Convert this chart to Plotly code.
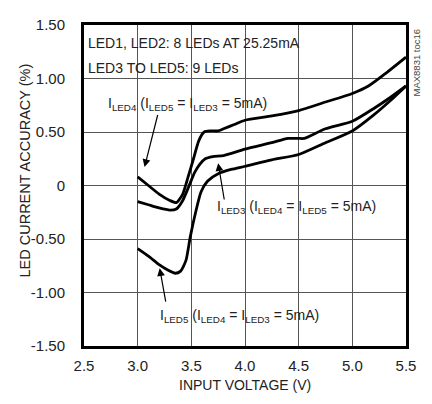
import plotly.graph_objects as go

# ILED4 (top curve)
v_led4 = [3.0, 3.1, 3.2, 3.3, 3.36, 3.42, 3.47, 3.52, 3.57, 3.62, 3.68, 3.75, 3.8, 3.9, 4.0, 4.25, 4.5, 4.75, 5.0, 5.15, 5.3, 5.5]
y_led4 = [0.08, 0.0, -0.08, -0.14, -0.16, -0.08, 0.08, 0.25, 0.42, 0.50, 0.51, 0.51, 0.53, 0.57, 0.61, 0.65, 0.70, 0.78, 0.86, 0.93, 1.04, 1.20]

# ILED3 (middle curve)
v_led3 = [3.0, 3.1, 3.2, 3.3, 3.36, 3.42, 3.48, 3.53, 3.58, 3.63, 3.7, 3.8, 4.0, 4.25, 4.4, 4.5, 4.55, 4.75, 5.0, 5.2, 5.35, 5.5]
y_led3 = [-0.15, -0.18, -0.21, -0.23, -0.22, -0.14, 0.0, 0.12, 0.20, 0.25, 0.27, 0.28, 0.34, 0.40, 0.44, 0.44, 0.44, 0.53, 0.60, 0.72, 0.82, 0.93]

# ILED5 (bottom curve)
v_led5 = [3.0, 3.1, 3.2, 3.28, 3.35, 3.4, 3.45, 3.49, 3.54, 3.59, 3.65, 3.75, 3.87, 4.0, 4.25, 4.5, 4.75, 5.0, 5.2, 5.35, 5.5]
y_led5 = [-0.59, -0.66, -0.74, -0.79, -0.82, -0.80, -0.70, -0.48, -0.25, -0.06, 0.04, 0.11, 0.15, 0.18, 0.24, 0.29, 0.40, 0.51, 0.66, 0.79, 0.93]

x_ticks = [2.5, 3.0, 3.5, 4.0, 4.5, 5.0, 5.5]
x_tick_labels = ["2.5", "3.0", "3.5", "4.0", "4.5", "5.0", "5.5"]
y_ticks = [-1.5, -1.0, -0.5, 0, 0.5, 1.0, 1.5]
y_tick_labels = ["-1.50", "-1.00", "-0.50", "0", "0.50", "1.00", "1.50"]

FONT = "Liberation Sans, Arial, sans-serif"
TXT = "#222222"

fig = go.Figure()
for vx, vy in [(v_led4, y_led4), (v_led3, y_led3), (v_led5, y_led5)]:
    fig.add_trace(go.Scatter(x=vx, y=vy, mode="lines",
                             line=dict(color="black", width=2.8, shape="spline", smoothing=0.6),
                             showlegend=False, hoverinfo="skip"))

axis_common = dict(showgrid=True, gridcolor="#555555", gridwidth=1,
                   showline=True, linecolor="black", linewidth=3, mirror=True,
                   zeroline=False, ticks="", tickfont=dict(family=FONT, size=15, color=TXT))

fig.update_xaxes(range=[2.5, 5.5], tickvals=x_ticks, ticktext=x_tick_labels,
                 ticklabelstandoff=4, **axis_common)
fig.update_yaxes(range=[-1.5, 1.5], tickvals=y_ticks, ticktext=y_tick_labels,
                 ticklabelstandoff=13, **axis_common)

ann_font = dict(family=FONT, size=14, color=TXT)
annotations = [
    dict(x=0.5, y=0, xref="paper", yref="paper", yanchor="middle", yshift=-39,
         text="INPUT VOLTAGE (V)", showarrow=False, font=dict(family=FONT, size=14, color=TXT)),
    dict(x=0, y=0.5, xref="paper", yref="paper", xanchor="center", yanchor="middle",
         xshift=-60, yshift=15,
         text="LED CURRENT ACCURACY (%)", textangle=-90, showarrow=False,
         font=dict(family=FONT, size=14.5, color=TXT)),
    dict(x=2.52, y=1.33, xref="x", yref="y", text="LED1, LED2: 8 LEDs AT 25.25mA",
         showarrow=False, xanchor="left", font=ann_font),
    dict(x=2.52, y=1.10, xref="x", yref="y", text="LED3 TO LED5: 9 LEDs",
         showarrow=False, xanchor="left", font=ann_font),
    dict(x=3.468, y=0.764, xref="x", yref="y",
         text="I<sub>LED4</sub> (I<sub>LED5</sub> = I<sub>LED3</sub> = 5mA)",
         showarrow=False, font=ann_font),
    dict(x=4.477, y=-0.20, xref="x", yref="y",
         text="I<sub>LED3</sub> (I<sub>LED4</sub> = I<sub>LED5</sub> = 5mA)",
         showarrow=False, font=ann_font),
    dict(x=3.95, y=-1.218, xref="x", yref="y",
         text="I<sub>LED5</sub> (I<sub>LED4</sub> = I<sub>LED3</sub> = 5mA)",
         showarrow=False, font=ann_font),
    # arrows
    dict(x=3.064, y=0.173, ax=3.19, ay=0.673, xref="x", yref="y", axref="x", ayref="y",
         text="", showarrow=True, arrowhead=2, arrowsize=1.3, arrowwidth=1.2, arrowcolor="black"),
    dict(x=3.75, y=0.209, ax=3.809, ay=-0.145, xref="x", yref="y", axref="x", ayref="y",
         text="", showarrow=True, arrowhead=2, arrowsize=1.3, arrowwidth=1.2, arrowcolor="black"),
    dict(x=3.205, y=-0.773, ax=3.264, ay=-1.10, xref="x", yref="y", axref="x", ayref="y",
         text="", showarrow=True, arrowhead=2, arrowsize=1.3, arrowwidth=1.2, arrowcolor="black"),
    dict(x=1.0, y=1.0, xref="paper", yref="paper", xanchor="left", yanchor="top", xshift=2, yshift=-2,
         text="MAX8831 toc16", textangle=-90, showarrow=False,
         font=dict(family=FONT, size=9.5, color="#444")),
]

fig.update_layout(
    width=416, height=388,
    margin=dict(l=76, r=10, t=8, b=50),
    paper_bgcolor="white", plot_bgcolor="white",
    annotations=annotations,
)

fig.write_html("out.html")
